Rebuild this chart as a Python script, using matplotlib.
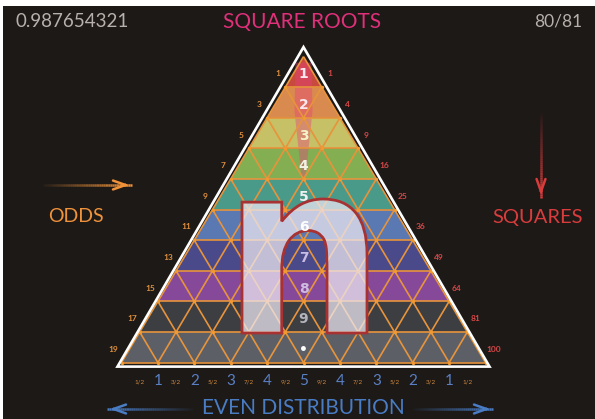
import numpy as np
import matplotlib
matplotlib.use('Agg')
import matplotlib.pyplot as plt
from matplotlib.collections import PolyCollection, LineCollection
from matplotlib.textpath import TextPath
from matplotlib.patches import PathPatch, Polygon
from matplotlib.font_manager import FontProperties
from matplotlib.transforms import Affine2D

plt.rcParams['font.family'] = ['Lato', 'DejaVu Sans']

# data
row_colors = ['#c84a3e', '#d98a4e', '#c6c066', '#84ae52', '#4a9a8a',
              '#5a78b2', '#4a4a8a', '#86499a', '#3c3e42', '#5c6066']
center_nums = ['1', '2', '3', '4', '5', '6', '7', '8', '9', '•']
center_cols = ['#fbe8ee', '#fbe8ee', '#f4f2c8', '#f2f2e4', '#f0f0f0',
               '#ffffff', '#c8bce4', '#d0bce0', '#b4b4bc', '#ffffff']
odds = ['1', '3', '5', '7', '9', '11', '13', '15', '17', '19']
squares = ['1', '4', '9', '16', '25', '36', '49', '64', '81', '100']
even_labels = ['1/2', '1', '3/2', '2', '5/2', '3', '7/2', '4', '9/2', '5',
               '9/2', '4', '7/2', '3', '5/2', '2', '3/2', '1', '1/2']

rows = len(row_colors)
cx, top, rh, hw = 303.5, 56.6, 30.6, 18.2
base = top + rows * rh

bg = '#1c1917'
orange = '#e8943c'

fig = plt.figure(figsize=(5.95, 4.19), dpi=100)
fig.patch.set_facecolor('white')
ax = fig.add_axes([3 / 595, 0, 592 / 595, 413 / 419])
ax.set_xlim(3, 595)
ax.set_ylim(419, 6)
ax.set_facecolor(bg)
ax.set_xticks([])
ax.set_yticks([])
for s in ax.spines.values():
    s.set_visible(False)


def v(r, c):
    return (cx + (2 * c - r) * hw, top + r * rh)


# small triangles
polys, cols = [], []
for r in range(rows):
    for c in range(r + 1):
        polys.append([v(r, c), v(r + 1, c), v(r + 1, c + 1)])
        cols.append(row_colors[r])
    for c in range(r):
        polys.append([v(r, c), v(r, c + 1), v(r + 1, c + 1)])
        cols.append(row_colors[r])
ax.add_collection(PolyCollection(polys, facecolors=cols, edgecolors='none', zorder=2))

# pink spire behind the centre numbers
spire = Polygon([(cx - 8, top + 6), (cx + 8, top + 6), (cx + 9, top + 55),
                 (cx + 2, top + 120), (cx - 2, top + 120), (cx - 9, top + 55)],
                closed=True, facecolor='#e8407e', alpha=0.4, edgecolor='none', zorder=3)
ax.add_patch(spire)

# grid lines
segs = []
for r in range(1, rows + 1):
    segs.append([v(r, 0), v(r, r)])
for c in range(rows + 1):
    segs.append([v(c, c), v(rows, c)])
for d in range(rows + 1):
    segs.append([v(d, 0), v(rows, rows - d)])
ax.add_collection(LineCollection(segs, colors=orange, linewidths=1.2, zorder=4))
pts = np.array([v(r, c) for r in range(1, rows + 1) for c in range(r + 1)])
ax.scatter(pts[:, 0], pts[:, 1], s=6, color='#f29a30', zorder=4, linewidths=0)

# white outer border
ax.add_patch(Polygon([(cx, top - 9.5), (cx - rows * hw - 4, base + 4),
                      (cx + rows * hw + 4, base + 4)], closed=True, fill=False,
                     edgecolor='white', linewidth=1.9, zorder=5, joinstyle='miter'))

# centre numbers
for k, (t, col) in enumerate(zip(center_nums, center_cols)):
    y = top + (k + 0.5) * rh + 2.5
    ax.text(cx, y, t, color=col, fontsize=10, fontweight='bold', family='DejaVu Sans',
            ha='center', va='center', zorder=5 if k == 4 else 8)

# the big "n"
tp = TextPath((0, 0), 'n', prop=FontProperties(family='DejaVu Sans', weight='bold'))
ext = tp.get_extents()
x0, x1, y0, y1 = 242, 367, 199, 333
tr = (Affine2D().translate(-ext.x0, -ext.y0)
      .scale((x1 - x0) / ext.width, -(y1 - y0) / ext.height)
      .translate(x0, y1))
npath = tr.transform_path(tp)
ax.add_patch(PathPatch(npath, facecolor='#ece8f2', alpha=0.74, edgecolor='none', zorder=6))
ax.add_patch(PathPatch(npath, facecolor='none', edgecolor='#a83232', linewidth=2.0, zorder=7))

# side labels
for k in range(rows):
    y = top + (k + 0.5) * rh + 2
    ex = (k + 0.5) * hw
    ax.text(cx - ex - 17, y, odds[k], color='#e0903e', fontsize=6, fontweight='bold',
            ha='center', va='center', zorder=8)
    ax.text(cx + ex + 17, y, squares[k], color='#d84848', fontsize=6, fontweight='bold',
            ha='center', va='center', zorder=8)

# bottom distribution labels
for i, t in enumerate(even_labels):
    x = cx + (i - 9) * hw
    if '/' in t:
        ax.text(x, 382, t, color='#d08a3e', fontsize=4.5, ha='center', va='center')
    else:
        ax.text(x, 381, t, color='#5a80c4', fontsize=11, ha='center', va='center')


def arrow(xa, ya, xb, yb, color, n=40):
    # shaft fading in from (xa, ya) towards the tip at (xb, yb)
    xs = np.linspace(xa, xb, n + 1)
    ys = np.linspace(ya, yb, n + 1)
    seg = [[(xs[i], ys[i]), (xs[i + 1], ys[i + 1])] for i in range(n)]
    alphas = np.linspace(0.05, 1, n)
    rgba = [matplotlib.colors.to_rgba(color, a) for a in alphas]
    ax.add_collection(LineCollection(seg, colors=rgba, linewidths=1.8, zorder=8))
    dx, dy = xb - xa, yb - ya
    L = np.hypot(dx, dy)
    ax.annotate('', xy=(xb, yb), xytext=(xb - dx / L * 12, yb - dy / L * 12),
                arrowprops=dict(arrowstyle='->,head_length=0.9,head_width=0.32',
                                color=color, lw=1.8), zorder=9)


arrow(43, 185, 132, 185, '#f0923a')
arrow(541, 113, 541, 198, '#d83c3c')
arrow(193, 409, 107, 409, '#4a7cc4')
arrow(413, 409, 493, 409, '#4a7cc4')

ax.text(76, 217, 'ODDS', color='#f0923a', fontsize=14, ha='center', va='center')
ax.text(538, 217, 'SQUARES', color='#d83c3c', fontsize=14.5, ha='center', va='center')
ax.text(303, 408, 'EVEN DISTRIBUTION', color='#4a7cc4', fontsize=15, ha='center', va='center')
ax.text(302, 22, 'SQUARE ROOTS', color='#e0307a', fontsize=15, ha='center', va='center')
ax.text(15, 22, '0.987654321', color='#b8b0ac', fontsize=13.5, ha='left', va='center')
ax.text(582, 22, '80/81', color='#b8b0ac', fontsize=12.5, ha='right', va='center')

fig.savefig('out.png', dpi=100, facecolor=fig.get_facecolor())
